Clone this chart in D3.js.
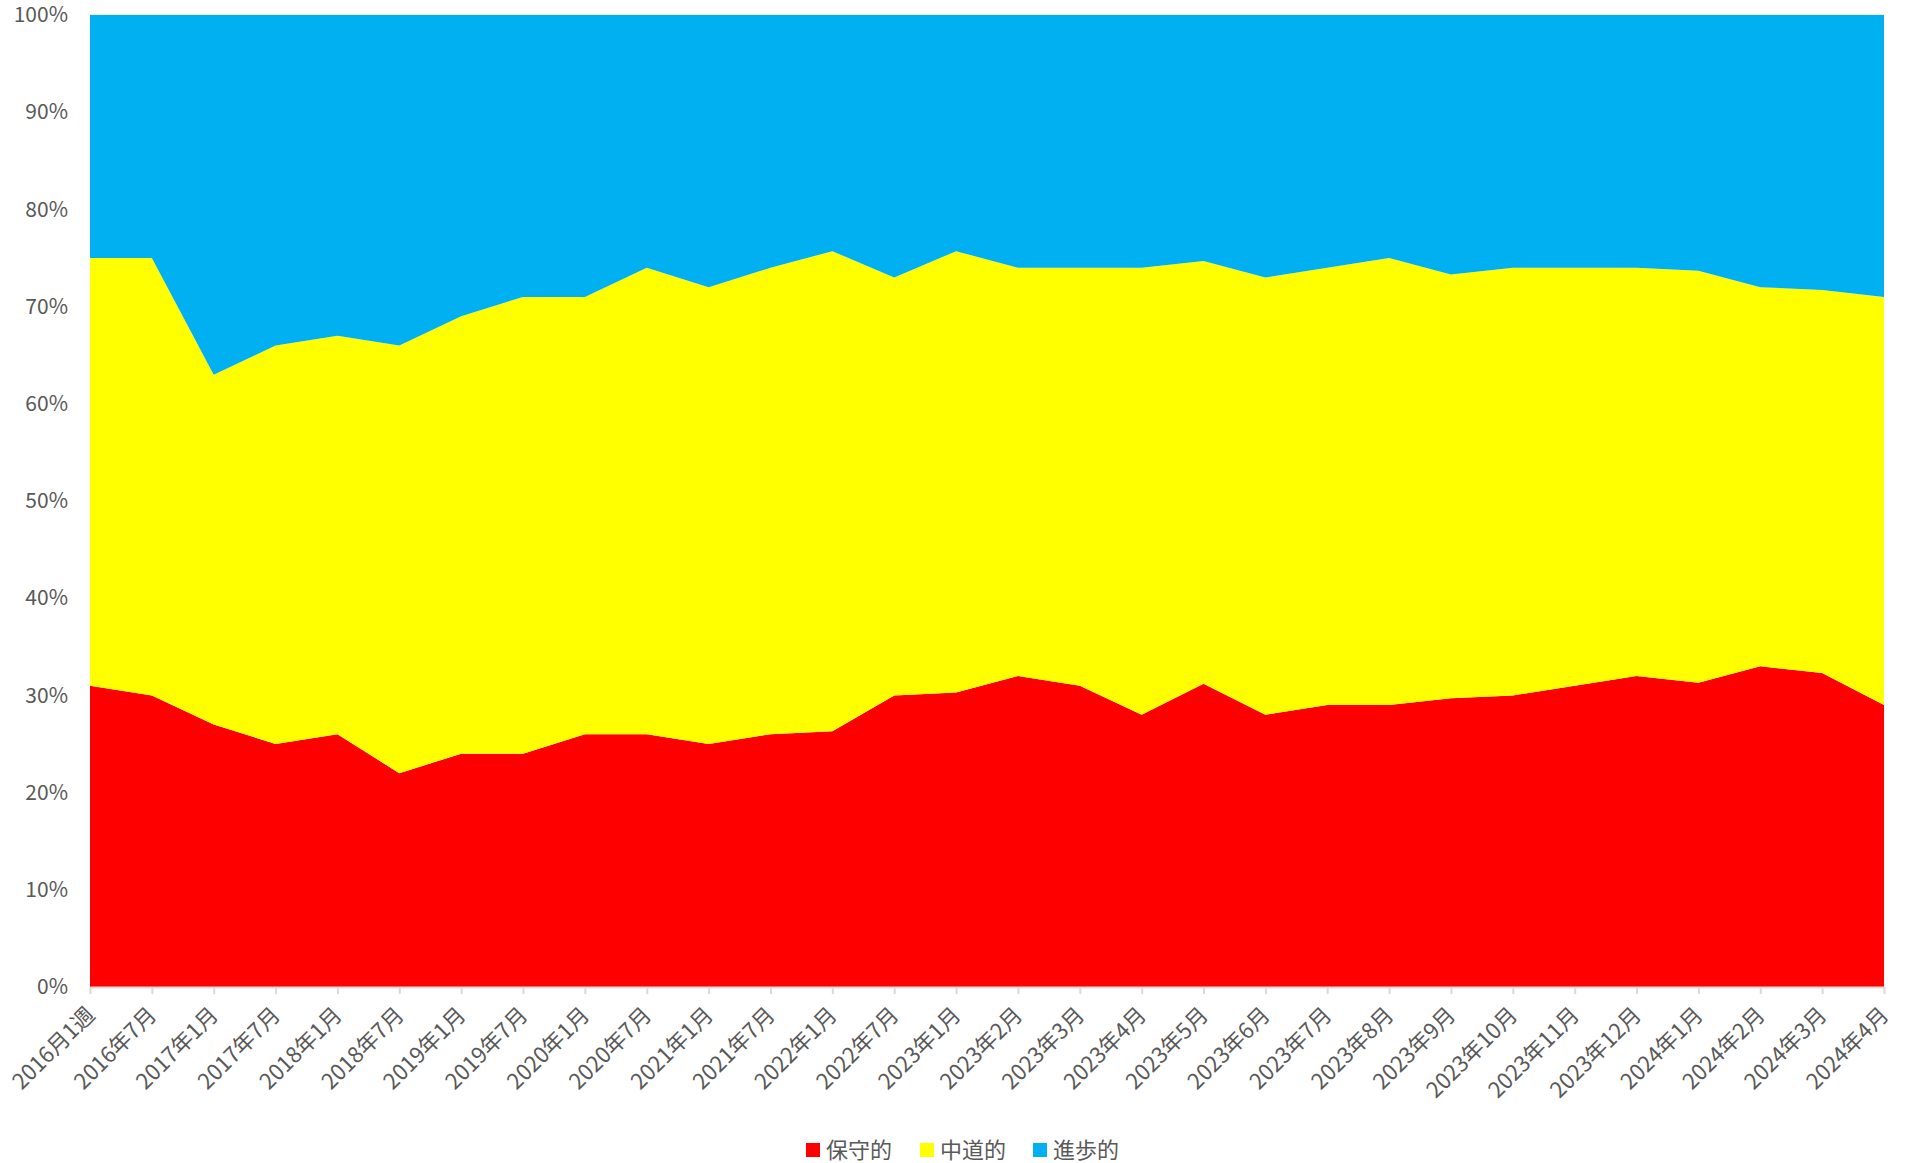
<!DOCTYPE html>
<html>
<head>
<meta charset="utf-8">
<script src="https://cdn.jsdelivr.net/npm/d3@7"></script>
<style>
    body { margin: 0; background: #fff; }
    svg text { font-family: "Noto Sans CJK JP", "Noto Sans", sans-serif; fill: #595959; }
</style>
</head>
<body>
<svg id="chart" width="1917" height="1163"></svg>
<script>
var categories = ["2016月1週", "2016年7月", "2017年1月", "2017年7月", "2018年1月", "2018年7月",
    "2019年1月", "2019年7月", "2020年1月", "2020年7月", "2021年1月", "2021年7月", "2022年1月",
    "2022年7月", "2023年1月", "2023年2月", "2023年3月", "2023年4月", "2023年5月", "2023年6月",
    "2023年7月", "2023年8月", "2023年9月", "2023年10月", "2023年11月", "2023年12月",
    "2024年1月", "2024年2月", "2024年3月", "2024年4月"];
// percentages
var conservative = [31, 30, 27, 25, 26, 22, 24, 24, 26, 26, 25, 26, 26.3, 30, 30.3,
    32, 31, 28, 31.2, 28, 29, 29, 29.7, 30, 31, 32, 31.3, 33, 32.3, 29];
var middle = [44, 45, 36, 41, 41, 44, 45, 47, 45, 48, 47, 48, 49.4, 43, 45.4,
    42, 43, 46, 43.5, 45, 45, 46, 43.6, 44, 43, 42, 42.4, 39, 39.4, 42];
var progressive = [25, 25, 37, 34, 33, 34, 31, 29, 29, 26, 28, 26, 24.3, 27, 24.3,
    26, 26, 26, 25.3, 27, 26, 25, 26.7, 26, 26, 26, 26.3, 28, 28.3, 29];
var seriesNames = ["保守的", "中道的", "進歩的"];
var seriesColors = ["#FF0000", "#FFFF00", "#00B0F0"];
var yTicks = [0, 10, 20, 30, 40, 50, 60, 70, 80, 90, 100];

var margin = {left: 90, right: 33, top: 15, bottom: 176};
var width = 1917, height = 1163;
var svg = d3.select("#chart");

var rows = categories.map(function (c, i) {
    return {cat: c, "保守的": conservative[i], "中道的": middle[i], "進歩的": progressive[i]};
});
var stacked = d3.stack().keys(seriesNames)
    .offset(d3.stackOffsetExpand)(rows);

var x = d3.scalePoint().domain(categories)
    .range([margin.left, width - margin.right]);
var y = d3.scaleLinear().domain([0, 1])
    .range([height - margin.bottom, margin.top]);

// gridline at top
svg.append("line")
    .attr("x1", margin.left).attr("x2", width - margin.right)
    .attr("y1", y(1)).attr("y2", y(1))
    .attr("stroke", "#d9d9d9");

var area = d3.area()
    .x(function (d) { return x(d.data.cat); })
    .y0(function (d) { return y(d[0]); })
    .y1(function (d) { return y(d[1]); });

svg.append("g").selectAll("path")
    .data(stacked).enter()
    .append("path")
    .attr("d", area)
    .attr("fill", function (d, i) { return seriesColors[i]; });

// y axis labels
var yAxis = svg.append("g")
    .attr("transform", "translate(" + margin.left + ",0)")
    .call(d3.axisLeft(y).tickValues(yTicks.map(function (t) { return t / 100; }))
        .tickFormat(function (d) { return Math.round(d * 100) + "%"; })
        .tickSize(0).tickPadding(22));
yAxis.select(".domain").remove();
yAxis.selectAll("text").style("font-size", "21px");

// x axis
var xAxis = svg.append("g")
    .attr("transform", "translate(0," + (height - margin.bottom) + ")")
    .call(d3.axisBottom(x).tickSize(7).tickSizeOuter(0));
xAxis.select(".domain").attr("stroke", "#d9d9d9").attr("stroke-width", 2);
xAxis.selectAll(".tick line").attr("stroke", "#d9d9d9").attr("stroke-width", 2);
xAxis.selectAll(".tick text")
    .style("font-size", "22px")
    .attr("text-anchor", "end")
    .attr("y", 0).attr("dy", "0.35em")
    .attr("transform", "translate(0,24) rotate(-45)");

// legend
var legendX = [806, 920, 1033];
var legend = svg.append("g").selectAll("g")
    .data(seriesNames).enter()
    .append("g")
    .attr("transform", function (d, i) { return "translate(" + legendX[i] + ",1143)"; });
legend.append("rect")
    .attr("width", 14).attr("height", 14)
    .attr("fill", function (d, i) { return seriesColors[i]; });
legend.append("text")
    .attr("x", 20).attr("y", 7).attr("dy", "0.36em")
    .style("font-size", "22px")
    .text(function (d) { return d; });
</script>
</body>
</html>
